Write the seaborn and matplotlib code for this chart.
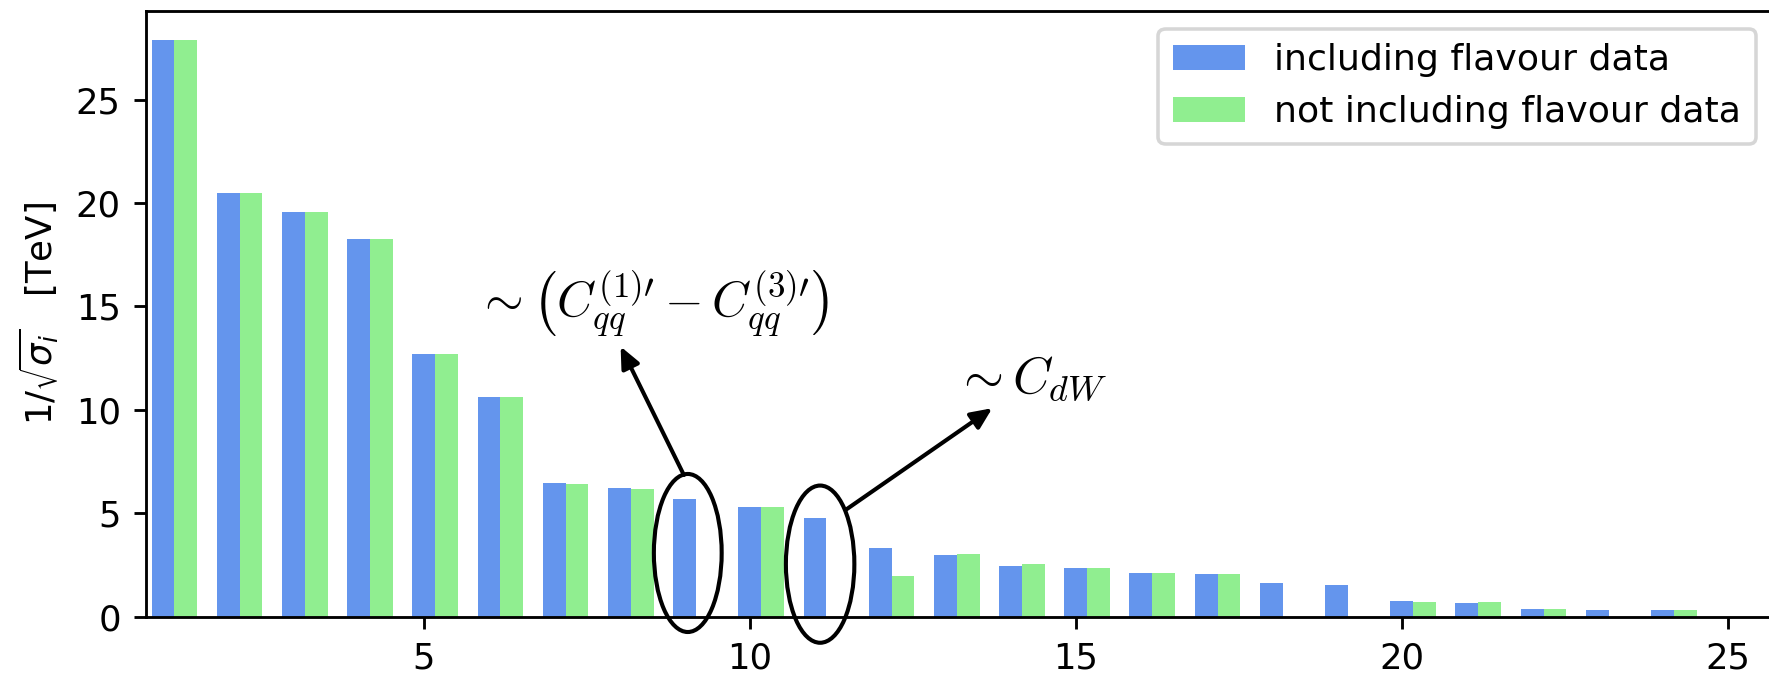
import numpy as np
import pandas as pd
import matplotlib
matplotlib.use("Agg")
import matplotlib.pyplot as plt
import seaborn as sns
from matplotlib.patches import Ellipse

# Eigen-direction index and the corresponding 1/sqrt(sigma_i) bounds in TeV
index = list(range(1, 25))
with_flavour = [27.90, 20.50, 19.56, 18.28, 12.72, 10.60, 6.48, 6.24, 5.71, 5.32,
                4.76, 3.34, 2.97, 2.47, 2.37, 2.10, 2.06, 1.61, 1.55, 0.77,
                0.65, 0.36, 0.32, 0.31]
without_flavour = [27.90, 20.50, 19.56, 18.24, 12.68, 10.60, 6.40, 6.16, np.nan, 5.32,
                   np.nan, 1.98, 3.02, 2.55, 2.34, 2.10, 2.06, np.nan, np.nan, 0.70,
                   0.70, 0.36, np.nan, 0.33]
series_labels = ["including flavour data", "not including flavour data"]
series_colors = ["cornflowerblue", "lightgreen"]

BAR_GROUP_WIDTH = 0.7

# long-form table; each group is shifted so the first bar sits on the integer index
frames = []
for label, values in zip(series_labels, [with_flavour, without_flavour]):
    frames.append(pd.DataFrame({
        "pos": np.array(index, dtype=float) + BAR_GROUP_WIDTH / 4,
        "value": values,
        "series": label,
    }))
df = pd.concat(frames, ignore_index=True).dropna()

W, H, DPI = 1769, 673, 256
fig = plt.figure(figsize=(W / DPI, H / DPI), dpi=DPI)
ax = fig.add_axes([145.7 / W, (H - 616.7) / H, (1774 - 145.7) / W, (616.7 - 10.7) / H])

sns.barplot(data=df, x="pos", y="value", hue="series", hue_order=series_labels,
            palette=series_colors, native_scale=True, width=BAR_GROUP_WIDTH,
            dodge=True, errorbar=None, linewidth=0, saturation=1, ax=ax)

ax.set_xlim(0.736, 25.71)
ax.set_xticks([5, 10, 15, 20, 25])
ax.set_yticks([0, 5, 10, 15, 20, 25])
ax.set_xlabel("")
ax.set_ylabel(r"$1/\sqrt{\sigma_i}$   [TeV]")
ax.spines["right"].set_visible(False)
ax.legend(loc="upper right", fontsize=10.2)

# highlight the two directions that lose their bound without flavour data
for cx, cy, ew, eh in [(9.05, 3.08, 1.04, 7.64), (11.08, 2.54, 1.05, 7.6)]:
    ax.add_patch(Ellipse((cx, cy), ew, eh, fill=False, edgecolor="black",
                         linewidth=1.15, clip_on=False, zorder=5))

arrow_style = dict(arrowstyle="-|>,head_length=0.2,head_width=0.09", color="black",
                   lw=1.15, mutation_scale=25, shrinkA=0, shrinkB=0)
ax.annotate("", xy=(8.02, 13.06), xytext=(8.99, 6.85), arrowprops=arrow_style)
ax.annotate("", xy=(13.72, 10.08), xytext=(11.47, 5.16), arrowprops=arrow_style)

ax.text(8.51, 15.17, r"$\sim\left(C_{qq}^{(1)\prime} - C_{qq}^{(3)\prime}\right)$",
        ha="center", va="center", fontsize=14, math_fontfamily="cm")
ax.text(14.31, 11.54, r"$\sim C_{dW}$", ha="center", va="center",
        fontsize=14.5, math_fontfamily="cm")

fig.savefig("out.png", dpi=DPI)
